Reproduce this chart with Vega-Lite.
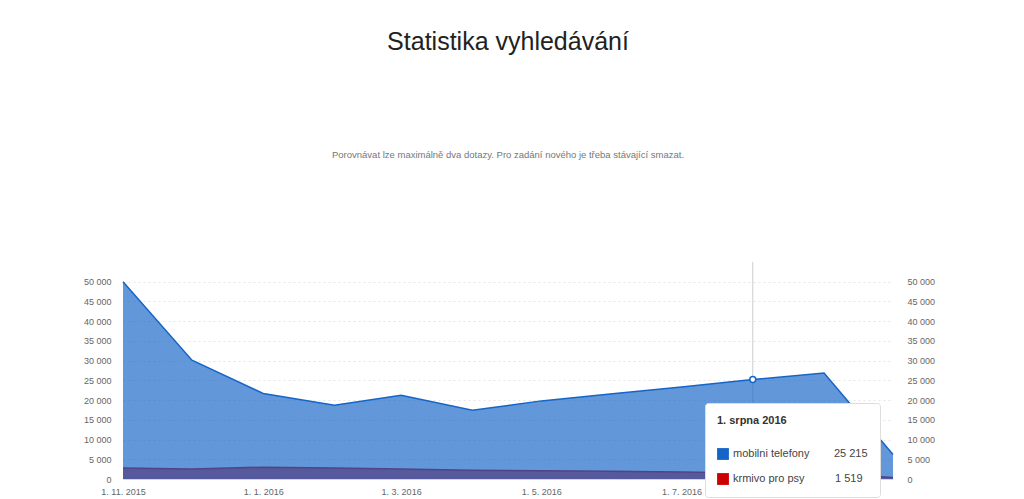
{
  "$schema": "https://vega.github.io/schema/vega-lite/v6.json",
  "autosize": {"type": "none"},
  "width": 770,
  "height": 217,
  "padding": {"left": 123, "top": 262, "right": 131, "bottom": 20},
  "background": "#ffffff",
  "config": {
    "font": "Liberation Sans",
    "view": {"stroke": null},
    "locale": {
      "number": {"decimal": ",", "thousands": " ", "grouping": [3], "currency": ["", " Kč"]}
    }
  },
  "title": {
    "text": "Statistika vyhledávání",
    "subtitle": "Porovnávat lze maximálně dva dotazy. Pro zadání nového je třeba stávající smazat.",
    "anchor": "middle",
    "frame": "group",
    "fontSize": 25,
    "fontWeight": "normal",
    "color": "#222222",
    "subtitleFontSize": 9.5,
    "subtitleColor": "#777777",
    "subtitlePadding": 95,
    "offset": 102
  },
  "data": {
    "values": [
      {"series": "mobilni telefony", "date": "2015/11/01", "value": 50000},
      {"series": "mobilni telefony", "date": "2015/12/01", "value": 30100},
      {"series": "mobilni telefony", "date": "2016/01/01", "value": 21680},
      {"series": "mobilni telefony", "date": "2016/02/01", "value": 18700},
      {"series": "mobilni telefony", "date": "2016/03/01", "value": 21250},
      {"series": "mobilni telefony", "date": "2016/04/01", "value": 17420},
      {"series": "mobilni telefony", "date": "2016/05/01", "value": 19800},
      {"series": "mobilni telefony", "date": "2016/06/01", "value": 21600},
      {"series": "mobilni telefony", "date": "2016/07/01", "value": 23300},
      {"series": "mobilni telefony", "date": "2016/08/01", "value": 25215},
      {"series": "mobilni telefony", "date": "2016/09/01", "value": 26860},
      {"series": "mobilni telefony", "date": "2016/10/01", "value": 6200},
      {"series": "krmivo pro psy", "date": "2015/11/01", "value": 2800},
      {"series": "krmivo pro psy", "date": "2015/12/01", "value": 2550},
      {"series": "krmivo pro psy", "date": "2016/01/01", "value": 3000},
      {"series": "krmivo pro psy", "date": "2016/02/01", "value": 2800},
      {"series": "krmivo pro psy", "date": "2016/03/01", "value": 2550},
      {"series": "krmivo pro psy", "date": "2016/04/01", "value": 2200},
      {"series": "krmivo pro psy", "date": "2016/05/01", "value": 2100},
      {"series": "krmivo pro psy", "date": "2016/06/01", "value": 1950},
      {"series": "krmivo pro psy", "date": "2016/07/01", "value": 1750},
      {"series": "krmivo pro psy", "date": "2016/08/01", "value": 1519},
      {"series": "krmivo pro psy", "date": "2016/09/01", "value": 1450},
      {"series": "krmivo pro psy", "date": "2016/10/01", "value": 400}
    ]
  },
  "encoding": {
    "x": {
      "field": "date",
      "type": "temporal",
      "scale": {"nice": false, "padding": 0},
      "axis": {
        "title": null,
        "values": [
          {"year": 2015, "month": 11, "date": 1},
          {"year": 2016, "month": 1, "date": 1},
          {"year": 2016, "month": 3, "date": 1},
          {"year": 2016, "month": 5, "date": 1},
          {"year": 2016, "month": 7, "date": 1},
          {"year": 2016, "month": 9, "date": 1}
        ],
        "format": "%-d. %-m. %Y",
        "labelFontSize": 9,
        "labelColor": "#666666",
        "labelPadding": 8,
        "labelOverlap": false,
        "labelFlush": false,
        "ticks": false,
        "grid": false,
        "domainColor": "#ccd6eb",
        "domainWidth": 1
      }
    }
  },
  "layer": [
    {
      "data": {"values": [{"date": "2016/08/01"}]},
      "mark": {"type": "rule", "color": "#cccccc", "strokeWidth": 1},
      "encoding": {}
    },
    {
      "transform": [{"filter": "datum.series == 'krmivo pro psy'"}],
      "mark": {"type": "area", "fillOpacity": 0.75, "line": {"strokeWidth": 1.5}},
      "encoding": {
        "y": {
          "field": "value",
          "type": "quantitative",
          "stack": null,
          "scale": {"domain": [0, 55000], "nice": false},
          "axis": {
            "title": null,
            "values": [0, 5000, 10000, 15000, 20000, 25000, 30000, 35000, 40000, 45000, 50000],
            "format": ",d",
            "labelFontSize": 9,
            "labelColor": "#666666",
            "labelPadding": 12,
            "ticks": false,
            "domain": false,
            "grid": true,
            "gridColor": "#e6e6e6",
            "gridDash": [2, 3],
            "orient": "left"
          }
        },
        "color": {
          "field": "series",
          "type": "nominal",
          "scale": {"domain": ["mobilni telefony", "krmivo pro psy"], "range": ["#1565c8", "#cc0000"]},
          "legend": {
            "orient": "none",
            "legendX": 582,
            "legendY": 141,
            "title": "1. srpna 2016",
            "titleFontSize": 11,
            "titleFontWeight": "bold",
            "titleColor": "#333333",
            "titlePadding": 22,
            "labelFontSize": 11,
            "labelColor": "#444444",
            "labelExpr": "datum.label == 'mobilni telefony' ? 'mobilni telefony\u00a0\u00a0\u00a0\u00a0\u00a0\u00a0\u00a0\u00a025\u00a0215' : 'krmivo pro psy\u00a0\u00a0\u00a0\u00a0\u00a0\u00a0\u00a0\u00a0\u00a0\u00a01\u00a0519'",
            "labelLimit": 300,
            "symbolType": "square",
            "symbolSize": 140,
            "rowPadding": 13,
            "padding": 12,
            "fillColor": "#ffffff",
            "strokeColor": "#dddddd",
            "cornerRadius": 3,
            "offset": 0,
            "encode": {
              "symbols": {"update": {"fillOpacity": {"value": 1}, "opacity": {"value": 1}, "strokeWidth": {"value": 0}}}
            }
          }
        }
      }
    },
    {
      "transform": [{"filter": "datum.series == 'mobilni telefony'"}],
      "mark": {"type": "area", "fillOpacity": 0.67, "line": {"strokeWidth": 1.5}},
      "encoding": {
        "y": {
          "field": "value",
          "type": "quantitative",
          "stack": null,
          "scale": {"domain": [0, 55000], "nice": false},
          "axis": {
            "title": null,
            "values": [0, 5000, 10000, 15000, 20000, 25000, 30000, 35000, 40000, 45000, 50000],
            "format": ",d",
            "labelFontSize": 9,
            "labelColor": "#666666",
            "labelPadding": 14,
            "ticks": false,
            "domain": false,
            "grid": false,
            "orient": "right"
          }
        },
        "color": {"field": "series", "type": "nominal"}
      }
    },
    {
      "transform": [{"filter": "datum.series == 'mobilni telefony' && datum.value == 25215"}],
      "mark": {"type": "point", "filled": true, "fill": "#ffffff", "stroke": "#1565c8", "strokeWidth": 1.5, "size": 35, "opacity": 1},
      "encoding": {
        "y": {"field": "value", "type": "quantitative", "scale": {"domain": [0, 55000], "nice": false}, "axis": null}
      }
    }
  ],
  "resolve": {"scale": {"y": "independent"}}
}
